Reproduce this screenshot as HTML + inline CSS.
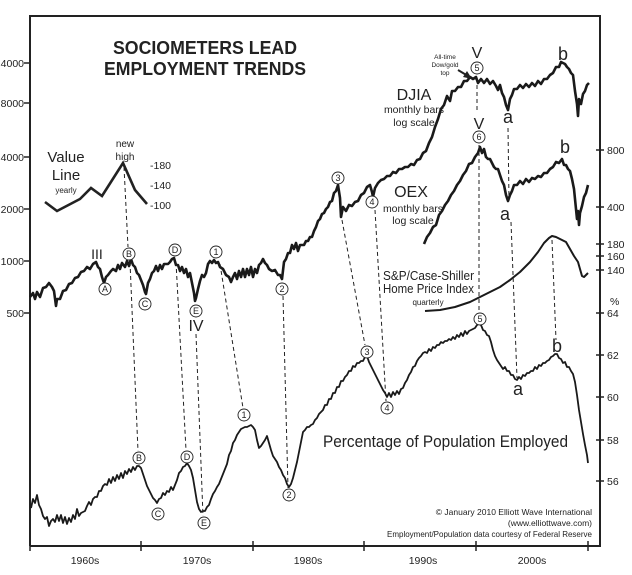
<!DOCTYPE html>
<html><head><meta charset="utf-8"><style>
html,body{margin:0;padding:0;background:#fff;}
svg{display:block;}
text{font-family:"Liberation Sans",Arial,sans-serif;fill:#222;}
</style></head><body>
<svg width="632" height="575" viewBox="0 0 632 575" xmlns="http://www.w3.org/2000/svg">
<rect width="632" height="575" fill="#fff"/>
<!-- frame -->
<polyline points="30,546 30,16 600,16 600,546 30,546" fill="none" stroke="#222" stroke-width="2"/>
<!-- left ticks -->
<g stroke="#222" stroke-width="1.5">
<line x1="24" y1="63" x2="30" y2="63"/><line x1="24" y1="103" x2="30" y2="103"/><line x1="24" y1="157" x2="30" y2="157"/>
<line x1="24" y1="209" x2="30" y2="209"/><line x1="24" y1="261" x2="30" y2="261"/><line x1="24" y1="313" x2="30" y2="313"/>
<!-- right ticks -->
<line x1="596" y1="150" x2="604" y2="150"/><line x1="596" y1="207" x2="604" y2="207"/><line x1="596" y1="244" x2="604" y2="244"/>
<line x1="596" y1="256" x2="604" y2="256"/><line x1="596" y1="270" x2="604" y2="270"/><line x1="596" y1="313" x2="604" y2="313"/>
<line x1="596" y1="355" x2="604" y2="355"/><line x1="596" y1="397" x2="604" y2="397"/><line x1="596" y1="440" x2="604" y2="440"/>
<line x1="596" y1="481" x2="604" y2="481"/>
<!-- bottom ticks -->
<line x1="30" y1="541" x2="30" y2="551"/><line x1="141" y1="541" x2="141" y2="551"/><line x1="253" y1="541" x2="253" y2="551"/>
<line x1="364" y1="541" x2="364" y2="551"/><line x1="476" y1="541" x2="476" y2="551"/><line x1="588" y1="541" x2="588" y2="551"/>
</g>
<g font-size="10.5" text-anchor="end">
<text x="24" y="67">4000</text><text x="24" y="107">8000</text><text x="24" y="161">4000</text>
<text x="24" y="213">2000</text><text x="24" y="265">1000</text><text x="24" y="317">500</text>
</g>
<g font-size="10.5">
<text x="607" y="154">800</text><text x="607" y="211">400</text><text x="607" y="248">180</text>
<text x="607" y="260">160</text><text x="607" y="274">140</text><text x="610" y="305">%</text>
<text x="607" y="317">64</text><text x="607" y="359">62</text><text x="607" y="401">60</text>
<text x="607" y="444">58</text><text x="607" y="485">56</text>
</g>
<g font-size="10.5" text-anchor="middle">
<text x="85" y="564">1960s</text><text x="197" y="564">1970s</text><text x="308" y="564">1980s</text>
<text x="423" y="564">1990s</text><text x="532" y="564">2000s</text>
</g>
<!-- title -->
<text x="113" y="54" font-size="18" font-weight="bold" textLength="184" lengthAdjust="spacingAndGlyphs">SOCIOMETERS LEAD</text>
<text x="104" y="75" font-size="18" font-weight="bold" textLength="202" lengthAdjust="spacingAndGlyphs">EMPLOYMENT TRENDS</text>
<!-- value line inset -->
<polyline points="45,202 57,211 80,199 91,188 102,196 123,163 135,190 147,204" fill="none" stroke="#222" stroke-width="2.6" stroke-linejoin="miter"/>
<text x="66" y="162" font-size="15" text-anchor="middle">Value</text>
<text x="66" y="180" font-size="15" text-anchor="middle">Line</text>
<text x="66" y="193" font-size="8" text-anchor="middle">yearly</text>
<text x="125" y="147" font-size="10" text-anchor="middle">new</text>
<text x="125" y="160" font-size="10" text-anchor="middle">high</text>
<g font-size="10.5"><text x="150" y="169">-180</text><text x="150" y="189">-140</text><text x="150" y="209">-100</text></g>
<!-- DJIA -->
<polyline fill="none" stroke="#1a1a1a" stroke-width="2.6" stroke-linejoin="round" points="30,297 33,293 35,299 37,292 40,297 43,288 46,287 49,283 52,287 54,291 56,306 57,299 60,299 63,291 66,290 69,284 72,283 75,278 78,277 81,272 84,271 87,267 90,269 93,264 96,262 98,267 100,269 102,277 104,283 106,277 108,275 111,271 113,269 116,271 118,265 120,269 122,263 125,267 127,261 129,266 131,259 133,265 135,267 137,273 139,275 141,280 143,285 145,292 146,294 148,283 150,279 152,273 154,271 156,266 158,271 160,265 162,269 164,264 166,264 168,264 170,262 172,259 174,258 176,265 178,265 180,271 182,267 184,273 186,269 188,277 190,273 192,283 194,293 195,301 196,298 198,289 200,281 202,275 204,277 206,273 208,264 210,261 212,263 214,260 216,263 218,262 220,267 223,269 226,275 229,277 231,282 233,277 235,273 237,279 239,271 241,277 243,269 245,277 247,269 249,275 251,267 253,277 255,269 257,273 259,265 261,263 263,259 265,263 267,265 269,269 272,271 275,270 278,275 280,275 282,279 284,262 286,259 288,253 290,253 292,245 294,249 296,243 298,251 300,245 302,245 304,245 306,241 308,241 310,237 312,237 314,231 316,227 318,221 320,219 322,214 324,213 326,209 328,207 330,202 332,201 334,193 336,191 338,185 340,198 341,217 343,207 346,211 349,205 352,206 355,202 358,201 361,195 364,193 367,187 370,185 372,192 373,197 375,188 378,183 381,180 384,179 387,176 390,176 393,172 396,173 399,169 402,169 405,167 408,167 411,164 414,165 417,160 420,159 423,153 426,151 429,143 432,137 435,127 438,119 441,109 444,105 447,96 450,101 452,91 455,91 458,87 461,87 464,81 467,81 470,77 473,79 476,77 478,83 481,79 484,83 487,79 490,84 493,81 496,86 498,90 500,85 502,93 504,97 506,105 508,110 510,99 512,95 514,89 517,89 520,85 523,88 526,84 529,87 532,83 535,86 538,81 541,84 544,79 547,79 550,75 553,73 556,67 559,67 561,62 563,63 565,64 567,67 569,69 571,73 573,75 575,91 577,104 578,116 579,99 581,104 583,94 585,91 587,85 589,83"/>
<!-- OEX -->
<polyline fill="none" stroke="#1a1a1a" stroke-width="2.6" stroke-linejoin="round" points="424,244 427,237 430,233 433,227 436,225 439,215 442,211 445,205 448,201 451,195 454,191 457,185 460,181 463,175 466,171 469,164 472,163 475,157 478,153 480,147 482,153 484,149 486,157 488,159 490,159 492,163 494,167 496,169 498,169 500,175 502,181 504,185 506,195 508,201 510,195 512,191 514,185 517,185 520,181 523,184 526,179 529,182 532,178 535,179 538,176 541,177 544,173 547,173 550,169 553,167 556,162 559,163 562,159 564,165 566,165 568,169 570,171 572,179 574,189 576,209 577,219 578,211 579,225 580,213 582,206 584,197 586,193 588,185"/>
<!-- Home price -->
<polyline fill="none" stroke="#1a1a1a" stroke-width="2" stroke-linejoin="round" points="425,311 440,310 455,307 470,302 480,297 490,292 500,287 510,280 520,272 530,262 538,252 544,243 549,238 552,236 556,237 562,240 566,242 570,249 574,256 578,262 582,276 584,277 588,273"/>
<!-- Employment -->
<polyline fill="none" stroke="#1a1a1a" stroke-width="1.8" stroke-linejoin="round" points="31,508 33,499 35,503 37,495 39,505 41,509 43,516 45,519 47,517 49,526 51,521 53,519 55,522 57,515 59,521 61,515 63,523 65,517 67,524 69,518 71,522 73,515 75,519 77,509 79,516 81,513 83,512 85,511 87,506 89,502 91,505 93,499 95,497 97,497 99,491 101,491 103,486 105,484 107,485 109,479 111,483 113,477 115,481 117,475 119,479 121,473 123,478 125,471 127,474 129,469 131,472 133,467 135,470 137,466 139,466 141,468 143,474 145,480 147,486 149,490 151,494 153,498 155,500 157,503 159,499 161,498 163,493 165,495 167,491 169,492 171,487 173,490 175,485 177,480 179,473 181,471 183,467 185,466 187,463 189,466 191,470 193,478 195,490 197,502 199,509 201,512 203,511 205,511 207,507 209,505 211,499 213,494 215,491 217,487 219,484 221,479 223,474 225,469 227,464 229,455 231,451 233,443 235,440 237,435 239,432 241,429 243,428 245,427 247,427 249,426 251,425 253,427 255,430 257,440 259,448 261,446 263,443 265,440 267,436 269,443 271,450 273,456 275,459 277,462 279,467 281,470 283,475 285,478 287,484 289,487 291,484 293,478 295,470 297,462 299,452 301,442 303,432 305,430 307,427 309,427 311,425 313,424 315,420 317,418 319,414 321,412 323,410 325,405 327,405 329,399 331,399 333,393 335,393 337,387 339,387 341,381 343,381 345,377 347,375 349,371 351,371 353,366 355,367 357,363 359,363 361,361 363,361 365,357 367,356 369,362 371,366 373,370 375,374 377,378 379,382 381,386 383,390 385,393 387,397 389,393 391,397 393,392 395,395 397,391 399,394 401,389 403,388 405,383 407,380 409,375 411,372 413,367 415,366 417,361 419,358 421,356 423,353 425,352 427,353 429,349 431,351 433,347 435,348 437,345 439,345 441,342 443,343 445,341 447,341 449,339 451,340 453,337 455,339 457,335 459,337 461,333 463,336 465,331 467,334 469,331 471,330 473,329 475,328 477,325 479,324 481,325 483,330 485,331 487,335 489,336 491,342 493,350 495,356 497,360 499,363 501,366 503,369 505,367 507,371 509,371 511,375 513,375 515,379 517,380 519,377 521,379 523,375 525,376 527,373 529,373 531,371 533,371 535,367 537,369 539,365 541,366 543,363 545,363 547,361 549,360 551,357 553,356 555,354 557,354 559,358 561,359 563,363 565,362 567,367 569,367 571,371 573,374 575,382 577,395 579,410 581,422 583,434 585,445 587,455 588,463"/>
<!-- dashed connectors -->
<g stroke="#222" stroke-width="1" stroke-dasharray="4,3" fill="none">
<line x1="124" y1="167" x2="128" y2="247"/><line x1="130" y1="262" x2="138" y2="451"/>
<line x1="176" y1="262" x2="186" y2="450"/>
<line x1="196" y1="334" x2="203" y2="516"/>
<line x1="220" y1="264" x2="243" y2="408"/>
<line x1="283" y1="296" x2="288" y2="488"/>
<line x1="342" y1="220" x2="365" y2="345"/>
<line x1="375" y1="210" x2="386" y2="401"/>
<line x1="477" y1="85" x2="477" y2="112"/><line x1="479" y1="145" x2="479" y2="312"/>
<line x1="508" y1="128" x2="509" y2="200"/><line x1="511" y1="222" x2="517" y2="378"/>
<line x1="552" y1="240" x2="556" y2="340"/>
</g>
<!-- circled labels -->
<g fill="#fff" stroke="#222" stroke-width="0.9">
<circle cx="105" cy="289" r="6"/><circle cx="129" cy="254" r="6"/><circle cx="145" cy="304" r="6"/>
<circle cx="175" cy="250" r="6"/><circle cx="196" cy="311" r="6"/><circle cx="216" cy="252" r="6"/>
<circle cx="282" cy="289" r="6"/><circle cx="338" cy="178" r="6"/><circle cx="372" cy="202" r="6"/>
<circle cx="477" cy="68" r="6"/><circle cx="479" cy="137" r="6"/>
<circle cx="139" cy="458" r="6"/><circle cx="158" cy="514" r="6"/><circle cx="187" cy="457" r="6"/>
<circle cx="204" cy="523" r="6"/><circle cx="244" cy="415" r="6"/><circle cx="289" cy="495" r="6"/>
<circle cx="367" cy="352" r="6"/><circle cx="387" cy="408" r="6"/><circle cx="480" cy="319" r="6"/>
</g>
<g font-size="9" text-anchor="middle">
<text x="105" y="292">A</text><text x="129" y="257">B</text><text x="145" y="307">C</text>
<text x="175" y="253">D</text><text x="196" y="314">E</text><text x="216" y="255">1</text>
<text x="282" y="292">2</text><text x="338" y="181">3</text><text x="372" y="205">4</text>
<text x="477" y="71">5</text><text x="479" y="140">6</text>
<text x="139" y="461">B</text><text x="158" y="517">C</text><text x="187" y="460">D</text>
<text x="204" y="526">E</text><text x="244" y="418">1</text><text x="289" y="498">2</text>
<text x="367" y="355">3</text><text x="387" y="411">4</text><text x="480" y="322">5</text>
</g>
<!-- wave labels -->
<text x="97" y="259" font-size="14" text-anchor="middle">III</text>
<text x="196" y="331" font-size="16" text-anchor="middle">IV</text>
<text x="477" y="58" font-size="16" text-anchor="middle">V</text>
<text x="479" y="129" font-size="16" text-anchor="middle">V</text>
<text x="508" y="123" font-size="18" text-anchor="middle">a</text>
<text x="505" y="220" font-size="18" text-anchor="middle">a</text>
<text x="518" y="395" font-size="18" text-anchor="middle">a</text>
<text x="563" y="60" font-size="18" text-anchor="middle">b</text>
<text x="565" y="153" font-size="18" text-anchor="middle">b</text>
<text x="557" y="352" font-size="18" text-anchor="middle">b</text>
<!-- all time -->
<g font-size="6.5" text-anchor="middle"><text x="445" y="59">All-time</text><text x="445" y="67">Dow/gold</text><text x="445" y="75">top</text></g>
<line x1="458" y1="70" x2="468" y2="76" stroke="#222" stroke-width="2"/>
<polygon points="472,79 463,77 467,71" fill="#222"/>
<!-- series labels -->
<text x="414" y="100" font-size="16" text-anchor="middle">DJIA</text>
<text x="414" y="113" font-size="10.5" text-anchor="middle">monthly bars</text>
<text x="414" y="126" font-size="10.5" text-anchor="middle">log scale</text>
<text x="411" y="197" font-size="16" text-anchor="middle">OEX</text>
<text x="413" y="212" font-size="10.5" text-anchor="middle">monthly bars</text>
<text x="413" y="224" font-size="10.5" text-anchor="middle">log scale</text>
<text x="383" y="280" font-size="13" textLength="91" lengthAdjust="spacingAndGlyphs">S&amp;P/Case-Shiller</text>
<text x="383" y="293" font-size="13" textLength="91" lengthAdjust="spacingAndGlyphs">Home Price Index</text>
<text x="428" y="305" font-size="8" text-anchor="middle">quarterly</text>
<text x="323" y="447" font-size="17" textLength="245" lengthAdjust="spacingAndGlyphs">Percentage of Population Employed</text>
<g font-size="8.5" text-anchor="end">
<text x="592" y="515">© January 2010 Elliott Wave International</text>
<text x="592" y="526">(www.elliottwave.com)</text>
<text x="592" y="537" textLength="205" lengthAdjust="spacingAndGlyphs">Employment/Population data courtesy of Federal Reserve</text>
</g>
</svg>
</body></html>
